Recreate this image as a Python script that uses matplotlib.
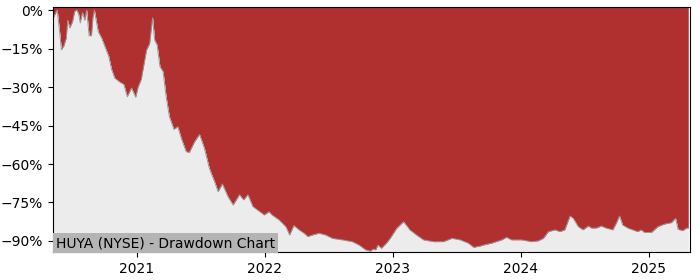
import matplotlib
matplotlib.use("Agg")
import matplotlib.pyplot as plt
import matplotlib.dates as mdates
from matplotlib.ticker import PercentFormatter
import numpy as np
import pandas as pd

# drawdown values (percent from running peak)
dates = [
    "2020-05-08", "2020-05-19", "2020-05-26", "2020-05-31", "2020-06-07", "2020-06-14",
    "2020-06-18", "2020-06-24", "2020-07-02", "2020-07-08", "2020-07-14", "2020-07-19",
    "2020-07-24", "2020-07-30", "2020-08-06", "2020-08-11", "2020-08-18", "2020-08-25",
    "2020-08-29", "2020-09-02", "2020-09-13", "2020-09-23", "2020-10-06", "2020-10-13",
    "2020-10-21", "2020-10-30", "2020-11-13", "2020-11-25", "2020-12-05", "2020-12-17",
    "2020-12-29", "2021-01-05", "2021-01-14", "2021-01-29", "2021-02-07", "2021-02-15",
    "2021-02-21", "2021-02-28", "2021-03-08", "2021-03-17", "2021-03-26", "2021-04-04",
    "2021-04-17", "2021-04-28", "2021-05-08", "2021-05-22", "2021-05-31", "2021-06-15",
    "2021-06-29", "2021-07-13", "2021-07-27", "2021-08-11", "2021-08-21", "2021-09-02",
    "2021-09-18", "2021-10-03", "2021-10-21", "2021-11-02", "2021-11-14", "2021-11-28",
    "2021-12-12", "2021-12-31", "2022-01-13", "2022-01-23", "2022-02-11", "2022-03-02",
    "2022-03-13", "2022-03-25", "2022-04-09", "2022-04-23", "2022-05-04", "2022-05-17",
    "2022-06-05", "2022-06-24", "2022-07-13", "2022-08-11", "2022-09-08", "2022-09-27",
    "2022-10-16", "2022-10-30", "2022-11-06", "2022-11-14", "2022-11-20", "2022-11-30",
    "2022-12-14", "2022-12-25", "2023-01-13", "2023-02-01", "2023-02-19", "2023-03-10",
    "2023-03-30", "2023-04-28", "2023-05-26", "2023-06-19", "2023-07-13", "2023-08-05",
    "2023-08-20", "2023-09-08", "2023-09-17", "2023-10-10", "2023-11-08", "2023-11-22",
    "2023-12-06", "2024-01-04", "2024-02-01", "2024-02-20", "2024-03-06", "2024-03-20",
    "2024-04-08", "2024-04-22", "2024-05-06", "2024-05-21", "2024-05-30", "2024-06-13",
    "2024-06-27", "2024-07-12", "2024-07-21", "2024-08-04", "2024-08-18", "2024-09-01",
    "2024-09-20", "2024-09-30", "2024-10-09", "2024-10-18", "2024-11-02", "2024-11-16",
    "2024-11-30", "2024-12-10", "2024-12-19", "2025-01-08", "2025-01-27", "2025-02-15",
    "2025-03-06", "2025-03-18", "2025-03-25", "2025-04-08", "2025-04-18", "2025-04-23",
]
drawdown = [
    -3.0, 0.0, -8.6, -15.5, -14.0, -11.0,
    -4.0, -7.0, -4.5, -0.5, 0.0, -1.5,
    -5.0, -1.0, -4.0, 0.0, -10.0, -10.0,
    -3.0, 0.0, -8.4, -11.0, -15.6, -18.0,
    -23.0, -26.5, -28.0, -29.0, -33.8, -30.4,
    -34.0, -30.0, -27.0, -15.6, -13.0, -3.0,
    -11.7, -13.6, -22.0, -24.0, -34.0, -41.5,
    -46.5, -45.5, -50.0, -55.2, -55.5, -51.3,
    -48.5, -53.9, -61.7, -66.9, -70.8, -67.8,
    -72.7, -76.0, -72.0, -74.0, -72.0, -76.6,
    -78.0, -79.9, -78.6, -80.0, -81.8, -84.4,
    -87.7, -84.0, -85.7, -87.0, -88.3, -87.7,
    -87.0, -87.7, -89.0, -89.6, -90.3, -91.6,
    -93.5, -94.0, -93.2, -93.5, -91.6, -92.9,
    -90.9, -89.0, -85.0, -82.5, -85.7, -87.7,
    -89.6, -90.3, -90.3, -89.0, -89.6, -90.9,
    -92.5, -92.0, -91.6, -90.9, -89.6, -88.6,
    -89.6, -89.6, -90.3, -90.0, -89.0, -86.4,
    -85.7, -86.4, -85.7, -80.3, -81.2, -84.4,
    -85.7, -84.2, -85.0, -85.0, -84.2, -85.0,
    -85.7, -83.1, -80.3, -83.8, -85.0, -85.7,
    -86.4, -85.7, -86.7, -86.7, -84.4, -83.4,
    -82.9, -81.2, -85.5, -86.0, -85.0, -85.0,
]
title = "HUYA (NYSE) - Drawdown Chart"

x = pd.to_datetime(dates)
dd = np.array(drawdown)
ytop, ybot = 1.2, -94.3

fig = plt.figure(figsize=(7, 2.8), dpi=100)
ax = fig.add_axes([0.0757, 0.1, 0.91, 0.875])

ax.fill_between(x, dd, ytop, color="#b03030", lw=0)
ax.fill_between(x, dd, ybot, color="#ececec", lw=0)
ax.plot(x, dd, color="#999999", lw=0.7)

ax.set_ylim(ybot, ytop)
ax.set_xlim(pd.Timestamp("2020-05-07"), pd.Timestamp("2025-04-28"))
ax.set_yticks(np.arange(0, -91, -15))
ax.yaxis.set_major_formatter(PercentFormatter(decimals=0))
ax.xaxis.set_major_locator(mdates.YearLocator())
ax.xaxis.set_major_formatter(mdates.DateFormatter("%Y"))
ax.tick_params(labelsize=10)

ax.text(0.005, 0.008, title, transform=ax.transAxes, fontsize=10,
        ha="left", va="bottom",
        bbox=dict(facecolor="#b4b4b4", edgecolor="none", pad=2))

fig.savefig("out.png", dpi=100)
